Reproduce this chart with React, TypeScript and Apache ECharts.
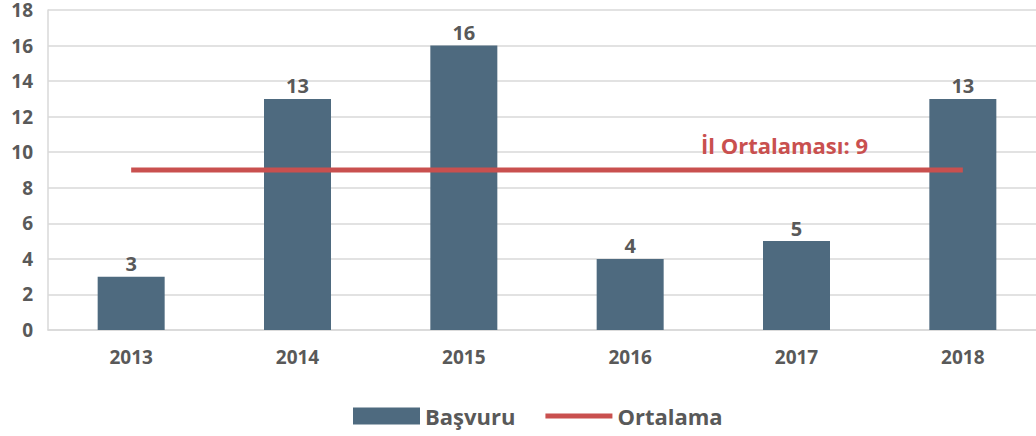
import React, { useEffect, useRef } from "react";
import * as echarts from "echarts";

const categories = ["2013", "2014", "2015", "2016", "2017", "2018"];
const basvuru = [3, 13, 16, 4, 5, 13];
const ortalama = [9, 9, 9, 9, 9, 9];
const avgLabel = "İl Ortalaması: 9";
const avgLabelIndex = 4;

export default function App() {
  const ref = useRef<HTMLDivElement>(null);
  useEffect(() => {
    if (!ref.current) return;
    const chart = echarts.init(ref.current, null, { renderer: "svg" });
    const font = "Open Sans";
    chart.setOption({
      animation: false,
      textStyle: { fontFamily: font },
      grid: { left: 48, right: 0, top: 10, bottom: 106, containLabel: false },
      legend: {
        bottom: 4,
        left: 348,
        itemGap: 30,
        itemWidth: 67,
        itemHeight: 17,
        textStyle: { fontFamily: font, fontSize: 22, fontWeight: "bold", color: "#595959" },
        data: [
          { name: "Başvuru", icon: "rect" },
          { name: "Ortalama", icon: "path://M0,0H67V5H0Z" },
        ],
      },
      xAxis: {
        type: "category",
        data: categories,
        axisLine: { show: true, lineStyle: { color: "#D9D9D9", width: 1.5 } },
        axisTick: { show: false },
        axisLabel: { fontFamily: font, fontSize: 19, fontWeight: "bold", color: "#595959", margin: 17 },
      },
      yAxis: {
        type: "value",
        min: 0,
        max: 18,
        interval: 2,
        axisLine: { show: true, lineStyle: { color: "#D9D9D9", width: 1.5 } },
        axisTick: { show: false },
        splitLine: { show: true, lineStyle: { color: "#D9D9D9", width: 1.5 } },
        axisLabel: {
          fontFamily: font,
          fontSize: 19,
          lineHeight: 18,
          fontWeight: "bold",
          color: "#595959",
          margin: 15,
        },
      },
      series: [
        {
          name: "Başvuru",
          type: "bar",
          data: basvuru,
          barWidth: 67,
          itemStyle: { color: "#4E6A7F" },
          label: {
            show: true,
            position: "top",
            distance: 3,
            fontFamily: font,
            fontSize: 20,
            fontWeight: "bold",
            color: "#595959",
          },
        },
        {
          name: "Ortalama",
          type: "line",
          data: ortalama,
          symbol: "none",
          lineStyle: { color: "#C9504F", width: 5 },
          itemStyle: { color: "#C9504F" },
          z: 3,
          markPoint: {
            symbol: "circle",
            symbolSize: 0,
            silent: true,
            label: {
              show: true,
              position: "top",
              distance: 14,
              offset: [-12, 0],
              formatter: avgLabel,
              fontFamily: font,
              fontSize: 22,
              fontWeight: "bold",
              color: "#C9504F",
            },
            data: [{ coord: [avgLabelIndex, ortalama[avgLabelIndex]] }],
          },
        },
      ],
    });
    return () => chart.dispose();
  }, []);
  return (
    <div style={{ position: "absolute", left: 0, top: 0, width: 1036, height: 436, overflow: "hidden" }}>
      <div ref={ref} style={{ width: 1046, height: 436 }} />
    </div>
  );
}
